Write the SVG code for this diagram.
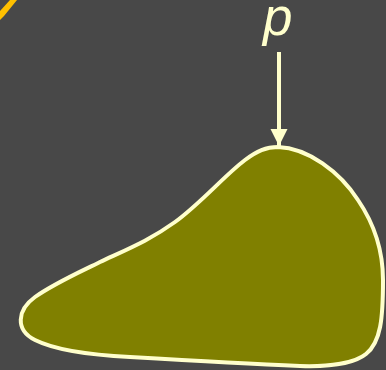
<svg xmlns="http://www.w3.org/2000/svg" width="386" height="370" viewBox="0 0 386 370">
<style>
.ln{stroke:#FFFFCC;fill:none;stroke-width:4}
.lbl{font-family:"Liberation Sans",Arial,sans-serif;font-style:italic;fill:#FFFFCC}
</style>
<defs>
<marker id="ah" markerUnits="userSpaceOnUse" markerWidth="18" markerHeight="18" refX="17" refY="8.5" orient="auto">
<path d="M0,0 L17,8.5 L0,17 Z" fill="#FFFFCC"/>
</marker>
</defs>
<rect width="386" height="370" fill="#484848"/>
<path d="M0,11 L10,0 L17,0 L4,16 L0,20 Z" fill="#FFC000"/>
<g id="blob">
<path d="M278,147 C308,148 340,172 358,200 C375,225 383,250 383,280 C383,318 381,342 366,354 C355,363 330,367 300,366 C250,364 180,360 130,357 C90,355 55,350 35,340 C15,330 17,310 35,297 C55,283 80,272 100,262 C130,248 150,240 175,222 C200,204 225,175 245,160 C257,151 266,147 278,147 Z" fill="#808000" stroke="#FFFFCC" stroke-width="4"/>
</g>
<g id="label-p">
<text class="lbl" x="263" y="35" font-size="53">p</text>
</g>
<g id="connectors">
<line class="ln" x1="279" y1="52" x2="279" y2="146" marker-end="url(#ah)"/>
</g>
</svg>
